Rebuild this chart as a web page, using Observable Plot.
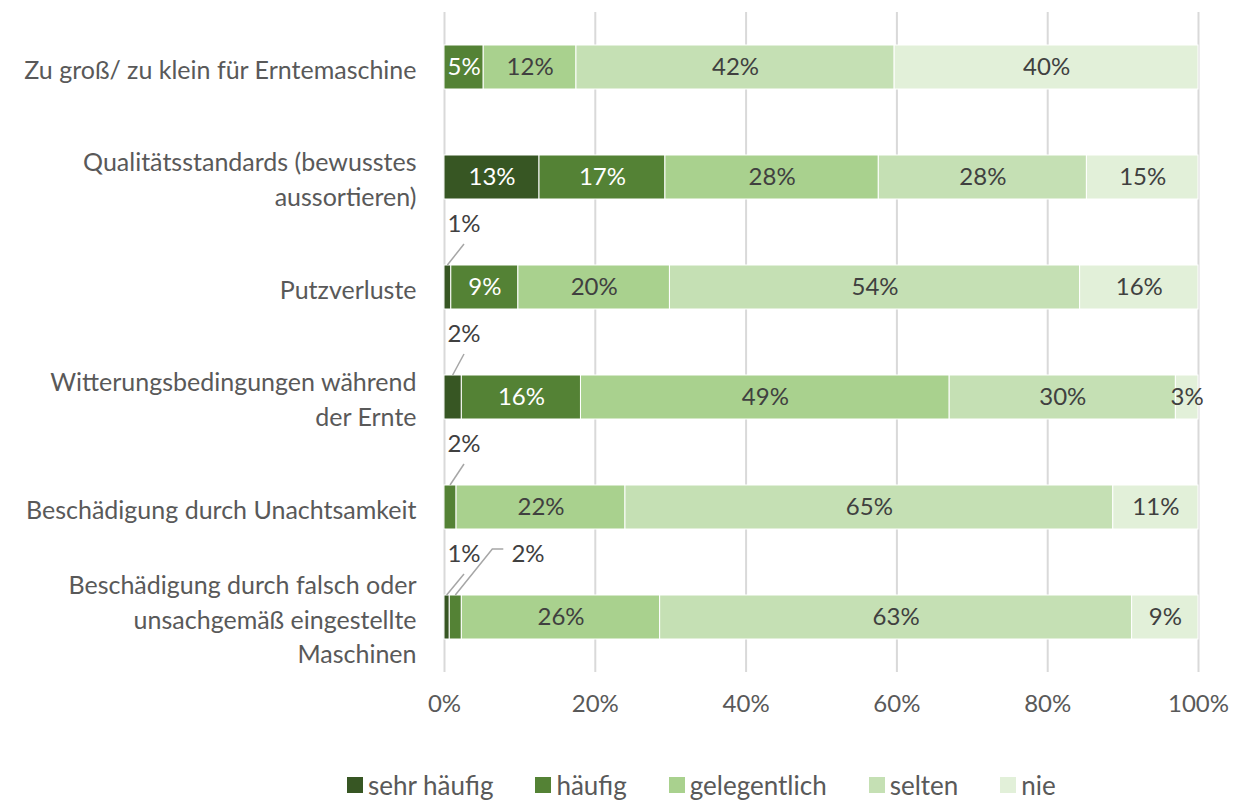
<!DOCTYPE html>
<html>
<head>
<meta charset="utf-8">
<script src="https://cdn.jsdelivr.net/npm/d3@7"></script>
<script src="https://cdn.jsdelivr.net/npm/@observablehq/plot@0.6"></script>
<style>
  body { margin: 0; background: #fff; font-family: Lato, "Open Sans", sans-serif; }
  #chart { width: 1233px; }
  #legend { display: flex; justify-content: flex-start; align-items: center; gap: 42px; margin-top: 38px; height: 30px; font-size: 26px; color: #595959; padding-left: 347px; }
  #legend .item { display: flex; align-items: center; gap: 5px; }
  #legend .sw { width: 16px; height: 16px; display: inline-block; }
</style>
</head>
<body>
<div id="chart"></div>
<div id="legend"></div>
<script>
const categories = [
  "Zu groß/ zu klein für Erntemaschine",
  "Qualitätsstandards (bewusstes\naussortieren)",
  "Putzverluste",
  "Witterungsbedingungen während\nder Ernte",
  "Beschädigung durch Unachtsamkeit",
  "Beschädigung durch falsch oder\nunsachgemäß eingestellte\nMaschinen"
];
const levels = ["sehr häufig", "häufig", "gelegentlich", "selten", "nie"];
const sehrHaeufig  = [0,    12.6, 0.9,  2.3,  0,    0.7];
const haeufig      = [5.2,  16.7, 8.9,  15.8, 1.6,  1.6];
const gelegentlich = [12.3, 28.3, 20.1, 48.9, 22.4, 26.3];
const selten       = [42.2, 27.6, 54.4, 30.0, 64.7, 62.6];
const nie          = [40.3, 14.8, 15.7, 3.0,  11.3, 8.8];
const xTicks = [0, 20, 40, 60, 80, 100];
const colors = ["#375623", "#548235", "#A9D18E", "#C5E0B4", "#E2F0D9"];

const series = [sehrHaeufig, haeufig, gelegentlich, selten, nie];
const data = [];
categories.forEach((cat, i) => {
  levels.forEach((lev, j) => {
    data.push({cat, level: lev, li: j, value: series[j][i]});
  });
});
const pct = v => Math.round(v) + "%";

// small segments get call-out labels
const callouts = [];
categories.forEach((cat, i) => {
  let cum = 0, k = 0;
  levels.forEach((lev, j) => {
    const v = series[j][i];
    if (v > 0 && v < 2.5) callouts.push({cat, mid: cum + v / 2, k: k++, label: pct(v)});
    cum += v;
  });
});

function calloutMark(index, scales, values, dimensions) {
  const x = scales.x, y = scales.y;
  const bw = y.bandwidth ? y.bandwidth() : 44;
  const g = d3.create("svg:g");
  const x0px = x(0);
  for (const c of callouts) {
    const cy = y(c.cat) + bw / 2;
    const top = cy - bw / 2;
    const sx = x(c.mid);
    const ly = cy - 63;
    let pts, lx;
    if (c.k === 0) {
      lx = x0px + 20;
      pts = [[sx, top], [lx, top - 21]];
    } else {
      lx = x0px + 84;
      pts = [[sx, top], [sx + 37, top - 46], [sx + 48, top - 46]];
    }
    g.append("path")
      .attr("d", "M" + pts.map(p => p.join(",")).join("L"))
      .attr("fill", "none").attr("stroke", "#a6a6a6").attr("stroke-width", 1.5);
    g.append("text")
      .attr("x", lx).attr("y", ly).attr("dy", "0.35em")
      .attr("text-anchor", "middle")
      .attr("font-size", 24).attr("fill", "#404040")
      .text(c.label);
  }
  return g.node();
}

const chart = Plot.plot({
  width: 1233,
  height: 732,
  marginLeft: 444,
  marginRight: 35,
  marginTop: 12,
  marginBottom: 60,
  style: {fontFamily: "Lato, 'Open Sans', sans-serif", background: "#fff"},
  x: {domain: [0, 100]},
  y: {domain: categories, paddingInner: 0.6, paddingOuter: 0.3},
  color: {domain: levels, range: colors},
  marks: [
    Plot.gridX(xTicks, {stroke: "#d9d9d9", strokeOpacity: 1, strokeWidth: 2}),
    Plot.barX(data, Plot.stackX({x: "value", y: "cat", fill: "level", stroke: "white", strokeWidth: 1})),
    Plot.text(data, Plot.stackX({
      x: "value", y: "cat", z: "level",
      text: d => (d.value >= 2.5 && d.li < 2) ? pct(d.value) : "",
      fill: "white", fontSize: 24
    })),
    Plot.text(data, Plot.stackX({
      x: "value", y: "cat", z: "level",
      text: d => (d.value >= 2.5 && d.li >= 2) ? pct(d.value) : "",
      fill: "#404040", fontSize: 24
    })),
    calloutMark,
    Plot.axisX({ticks: xTicks, tickFormat: d => d + "%", tickSize: 0, tickPadding: 22, fontSize: 24, color: "#595959", label: null}),
    Plot.axisY({tickSize: 0, tickPadding: 28, fontSize: 25, lineHeight: 1.38, color: "#595959", label: null})
  ]
});
document.getElementById("chart").appendChild(chart);

const legend = document.getElementById("legend");
levels.forEach((lev, j) => {
  const it = document.createElement("div");
  it.className = "item";
  const sw = document.createElement("span");
  sw.className = "sw";
  sw.style.background = colors[j];
  const tx = document.createElement("span");
  tx.textContent = lev;
  it.appendChild(sw); it.appendChild(tx);
  legend.appendChild(it);
});
</script>
</body>
</html>
